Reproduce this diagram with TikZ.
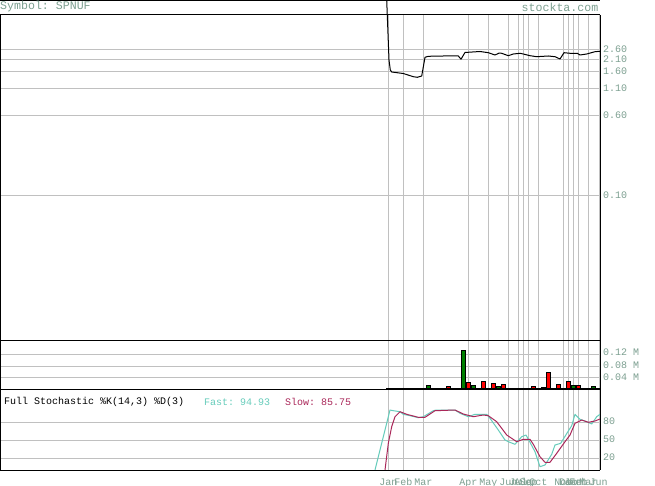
\documentclass[tikz,border=0pt]{standalone}
\usepackage{fontspec}
\setmonofont{Liberation Mono}
\definecolor{axistext}{RGB}{125,160,145}
\definecolor{gridgray}{RGB}{192,192,192}
\definecolor{fastc}{RGB}{102,204,187}
\definecolor{slowc}{RGB}{170,40,90}
\definecolor{vgreen}{RGB}{0,128,0}
\definecolor{vred}{RGB}{255,0,0}
\tikzset{
  gridline/.style={draw=gridgray, line width=1pt},
  frameline/.style={draw=black, line width=1pt},
  headtext/.style={font=\ttfamily\fontsize{11.6}{12}\selectfont, text=axistext, inner sep=0pt},
  axislabel/.style={font=\ttfamily\fontsize{10}{11}\selectfont, text=axistext, inner sep=0pt, anchor=west},
  monthlabel/.style={font=\ttfamily\fontsize{10}{11}\selectfont, text=axistext, inner sep=0pt, anchor=base},
  stochtitle/.style={font=\ttfamily\fontsize{10}{11}\selectfont, inner sep=0pt, anchor=west},
  upbar/.style={fill=vgreen, draw=black, line width=0.8pt},
  downbar/.style={fill=vred, draw=black, line width=0.8pt},
  priceline/.style={draw=black, line width=1pt, line join=round},
  fastline/.style={draw=fastc, line width=1pt, line join=round},
  slowline/.style={draw=slowc, line width=1pt, line join=round}
}
\begin{document}
\begin{tikzpicture}[x=1pt,y=-1pt]
\useasboundingbox[fill=white] (0,0) rectangle (655,486);

% horizontal grid lines
\foreach \yy in {50,59.5,71.5,88.5,115.6,195.8,354.8,366.3,377.8,422,440,458}
  \draw[gridline] (0,\yy) -- (600,\yy);
% vertical grid lines
\foreach \xx in {388.3,403.3,423.3,468.3,488.3,508.3,518.3,523.3,528.3,538.3,563.3,568.3,573.3,578.3,588.3,599}
  \draw[gridline] (\xx,15) -- (\xx,470);

% volume bars
\draw[upbar]   (421.3,389) rectangle (425.3,388);
\draw[upbar]   (426.3,389) rectangle (430.3,385);
\draw[downbar] (446.3,389) rectangle (450.3,386);
\draw[upbar]   (461.3,389) rectangle (465.3,350);
\draw[downbar] (466.3,389) rectangle (470.3,382.3);
\draw[upbar]   (471.3,389) rectangle (475.3,385.3);
\draw[downbar] (481.3,389) rectangle (485.3,381);
\draw[downbar] (491.3,389) rectangle (495.3,383.3);
\draw[upbar]   (496.3,389) rectangle (500.3,386.3);
\draw[downbar] (501.3,389) rectangle (505.3,384);
\draw[downbar] (531.3,389) rectangle (535.3,386);
\draw[upbar]   (541.3,389) rectangle (545.3,387);
\draw[downbar] (546.3,389) rectangle (550.3,372);
\draw[downbar] (556.3,389) rectangle (560.3,384);
\draw[downbar] (566.3,389) rectangle (570.3,381);
\draw[upbar]   (571.3,389) rectangle (575.3,385.3);
\draw[downbar] (576.3,389) rectangle (580.3,385.3);
\draw[upbar]   (591.3,389) rectangle (595.3,386.3);
\draw[black, line width=2pt] (386,388.6) -- (600,388.6);

% stochastic lines
\begin{scope}
\clip (0,390) rectangle (600,470);
\draw[fastline] (375,470) -- (390,410) -- (393.3,410.7) -- (400,411.7) -- (403.3,414.3) -- (410,415.7) -- (418.3,417.7) -- (423.3,416.7) -- (433.3,410.7) -- (436.7,410) -- (455,410) -- (460,413.3) -- (468.3,416.7) -- (475,414.3) -- (486.7,414.3) -- (490,418.3) -- (498.3,430) -- (505,440) -- (508.3,441.7) -- (515,444.3) -- (521.7,436.7) -- (526,435) -- (529.3,441) -- (535,451.7) -- (540,466.7) -- (545,465) -- (551.7,454.3) -- (555,445) -- (560.7,443.3) -- (568.3,431) -- (571.7,425.7) -- (575,414.3) -- (580,419.3) -- (586.7,421.7) -- (591.7,424) -- (596.7,416.7) -- (600,414.3);
\draw[slowline] (385,470) -- (388.3,443.3) -- (391.7,426.7) -- (395,416.7) -- (400,411.7) -- (406.7,414.3) -- (418.3,417.3) -- (425,417.3) -- (435,410.7) -- (455,410) -- (463.3,414) -- (473.3,416.7) -- (483.3,415) -- (488.3,415.7) -- (496.7,421.7) -- (506.7,435) -- (516.7,441.7) -- (523.3,439.3) -- (530,439.3) -- (533.3,444.3) -- (540,456.7) -- (545,462.3) -- (550,462.3) -- (556.7,453.3) -- (565,441.7) -- (570,435) -- (575,423.3) -- (581.7,420) -- (588.3,422.3) -- (595,421) -- (600,419);
\end{scope}

% frame
\draw[frameline] (0,0.5) -- (600,0.5);
\draw[frameline] (0,15) -- (600,15);
\draw[frameline] (0,340) -- (600,340);
\draw[frameline] (0,389.5) -- (600,389.5);
\draw[frameline] (0,470) -- (600,470);
\draw[frameline] (0.5,15) -- (0.5,470);
\draw[frameline] (600,15) -- (600,470);

% price line
\draw[priceline] (386.7,0) -- (389,60) -- (390.3,70) -- (391.7,72) -- (403.3,73.5) -- (413.3,76.7) -- (417.3,77.3) -- (421.7,76) -- (425,57.3) -- (428.3,56.3) -- (443.3,56) -- (458.3,56) -- (461,59.2) -- (465,52.5) -- (480,51.5) -- (488.3,52.7) -- (495,55) -- (499.3,53) -- (501.7,53.3) -- (508.3,55.7) -- (513.3,54) -- (520,53.3) -- (523.3,54) -- (530,55.7) -- (536.7,56.7) -- (548.3,56) -- (555,56.7) -- (560,59) -- (564,52.7) -- (570,53.3) -- (577.3,53.3) -- (580,55) -- (586.7,54) -- (595,51.7) -- (600,51.3);

% header texts
\node[headtext, anchor=west] (sym) at (0,7) {Symbol: SPNUF};
\node[headtext, anchor=east] (site) at (598.5,7) {stockta.com};

% price axis labels
\node[axislabel] (p260) at (603,49.5) {2.60};
\node[axislabel] (p210) at (603,59) {2.10};
\node[axislabel] (p160) at (603,71) {1.60};
\node[axislabel] (p110) at (603,88) {1.10};
\node[axislabel] (p060) at (603,115) {0.60};
\node[axislabel] (p010) at (603,195.5) {0.10};

% volume axis labels
\node[axislabel] (v12) at (603,352) {0.12 M};
\node[axislabel] (v08) at (603,365) {0.08 M};
\node[axislabel] (v04) at (603,377.3) {0.04 M};

% stochastic axis labels
\node[axislabel] (s80) at (603,421.5) {80};
\node[axislabel] (s50) at (603,439.5) {50};
\node[axislabel] (s20) at (603,457.5) {20};

% stochastic title
\node[stochtitle] (stt) at (4,402) {Full Stochastic \%K(14,3) \%D(3)};
\node[stochtitle, text=fastc] (fst) at (204,402) {Fast: 94.93};
\node[stochtitle, text=slowc] (slw) at (285,402) {Slow: 85.75};

% month labels
\node[monthlabel] (m1) at (388.3,485) {Jan};
\node[monthlabel] (m2) at (403.3,485) {Feb};
\node[monthlabel] (m3) at (423.3,485) {Mar};
\node[monthlabel] (m4) at (468.3,485) {Apr};
\node[monthlabel] (m5) at (488.3,485) {May};
\node[monthlabel] (m6) at (508.3,485) {Jun};
\node[monthlabel] (m7) at (518.3,485) {Jul};
\node[monthlabel] (m8) at (523.3,485) {Aug};
\node[monthlabel] (m9) at (528.3,485) {Sep};
\node[monthlabel] (m10) at (538.3,485) {Oct};
\node[monthlabel] (m11) at (563.3,485) {Nov};
\node[monthlabel] (m12) at (568.3,485) {Dec};
\node[monthlabel] (m13) at (573.3,485) {Jan};
\node[monthlabel] (m14) at (578.3,485) {Feb};
\node[monthlabel] (m15) at (588.3,485) {Mar};
\node[monthlabel] (m16) at (598.5,485) {Jun};
\end{tikzpicture}
\end{document}
